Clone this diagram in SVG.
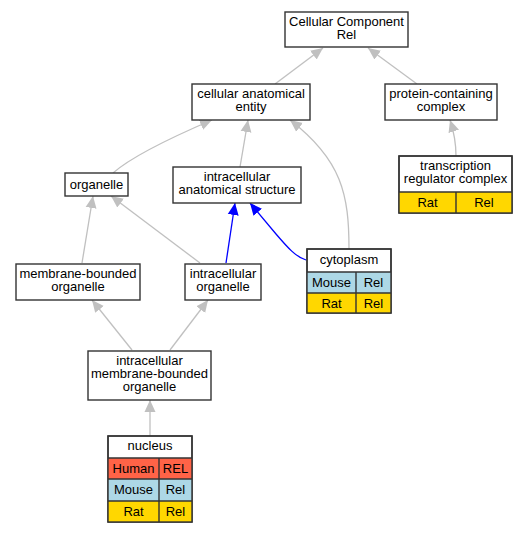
<svg xmlns="http://www.w3.org/2000/svg" width="528" height="533" viewBox="0 0 528 533">
<defs>
<marker id="ag" markerUnits="userSpaceOnUse" markerWidth="13" markerHeight="12" viewBox="0 0 13 12" refX="12" refY="6" orient="auto"><path d="M0,0.5 L12,6 L0,11.5 Z" fill="#c0c0c0"/></marker>
<marker id="ab" markerUnits="userSpaceOnUse" markerWidth="13" markerHeight="12" viewBox="0 0 13 12" refX="12" refY="6" orient="auto"><path d="M0,0.5 L12,6 L0,11.5 Z" fill="#0000ff"/></marker>
</defs>
<style>
.b{fill:#fff;stroke:#333;stroke-width:1.4}
.c{stroke:#333;stroke-width:1.4}
t,text{font-family:"Liberation Sans",Arial,sans-serif;font-size:13px;fill:#000;text-anchor:middle}
.g{fill:none;stroke:#c0c0c0;stroke-width:1.3;marker-end:url(#ag)}
.bl{fill:none;stroke:#0000ff;stroke-width:1.3;marker-end:url(#ab)}
.hu{fill:#ff6347}.mo{fill:#add8e6}.ra{fill:#ffd700}
</style>
<rect width="528" height="533" fill="#fff"/>
<g id="edges">
<path class="g" d="M275,84 L323,48"/>
<path class="g" d="M417,84 L368,48"/>
<path class="g" d="M456,156 C456,145 454,132 450,120"/>
<path class="g" d="M113,173 C130,158 170,138 212,120"/>
<path class="g" d="M240,167 L248,120"/>
<path class="g" d="M349,249 C349,195 342,160 290,120"/>
<path class="g" d="M82,263 L93,196"/>
<path class="g" d="M200,263 L111,196"/>
<path class="bl" d="M226,263 L235,203"/>
<path class="bl" d="M306,260 C296,257 288,248 276,234 L250,203"/>
<path class="g" d="M132,350 L92,300"/>
<path class="g" d="M170,350 L208,300"/>
<path class="g" d="M150,436 L150,400"/>
</g>
<g id="n_cc"><rect class="b" x="285" y="12" width="123" height="35"/><text x="346.5" y="26">Cellular Component</text><text x="346.5" y="39">Rel</text></g>
<g id="n_cae"><rect class="b" x="192" y="84" width="118" height="36"/><text x="251" y="98">cellular anatomical</text><text x="251" y="111">entity</text></g>
<g id="n_pcc"><rect class="b" x="385" y="84" width="112" height="36"/><text x="441" y="98">protein-containing</text><text x="441" y="111">complex</text></g>
<g id="n_trc"><rect class="b" x="399" y="156" width="113" height="57"/>
<rect class="ra" x="399" y="192" width="113" height="21"/>
<rect class="b" x="399" y="156" width="113" height="57" style="fill:none"/>
<line class="c" x1="399" y1="192" x2="512" y2="192"/><line class="c" x1="456" y1="192" x2="456" y2="213"/>
<text x="455.5" y="170">transcription</text><text x="455.5" y="183">regulator complex</text>
<text x="427.5" y="207">Rat</text><text x="484" y="207">Rel</text></g>
<g id="n_org"><rect class="b" x="65" y="173" width="63" height="23"/><text x="96.5" y="189">organelle</text></g>
<g id="n_ias"><rect class="b" x="173" y="167" width="128" height="36"/><text x="237" y="181">intracellular</text><text x="237" y="194">anatomical structure</text></g>
<g id="n_mbo"><rect class="b" x="16" y="264" width="124" height="36"/><text x="78" y="278">membrane-bounded</text><text x="78" y="291">organelle</text></g>
<g id="n_io"><rect class="b" x="185" y="264" width="76" height="36"/><text x="223" y="278">intracellular</text><text x="223" y="291">organelle</text></g>
<g id="n_cyto"><rect class="b" x="307" y="249" width="84" height="64"/>
<rect class="mo" x="307" y="272" width="84" height="21"/><rect class="ra" x="307" y="293" width="84" height="20"/>
<rect class="b" x="307" y="249" width="84" height="64" style="fill:none"/>
<line class="c" x1="307" y1="272" x2="391" y2="272"/><line class="c" x1="307" y1="293" x2="391" y2="293"/><line class="c" x1="356" y1="272" x2="356" y2="313"/>
<text x="349" y="264">cytoplasm</text><text x="331.5" y="287">Mouse</text><text x="373.5" y="287">Rel</text><text x="331.5" y="308">Rat</text><text x="373.5" y="308">Rel</text></g>
<g id="n_imbo"><rect class="b" x="88" y="351" width="123" height="49"/><text x="149.5" y="365">intracellular</text><text x="149.5" y="378">membrane-bounded</text><text x="149.5" y="391">organelle</text></g>
<g id="n_nuc"><rect class="b" x="108" y="436" width="84" height="86"/>
<rect class="hu" x="108" y="458" width="84" height="21"/><rect class="mo" x="108" y="479" width="84" height="22"/><rect class="ra" x="108" y="501" width="84" height="21"/>
<rect class="b" x="108" y="436" width="84" height="86" style="fill:none"/>
<line class="c" x1="108" y1="458" x2="192" y2="458"/><line class="c" x1="108" y1="479" x2="192" y2="479"/><line class="c" x1="108" y1="501" x2="192" y2="501"/><line class="c" x1="159" y1="458" x2="159" y2="522"/>
<text x="150" y="450">nucleus</text><text x="133.5" y="473">Human</text><text x="175.5" y="473">REL</text><text x="133.5" y="494">Mouse</text><text x="175.5" y="494">Rel</text><text x="133.5" y="516">Rat</text><text x="175.5" y="516">Rel</text></g>
</svg>
